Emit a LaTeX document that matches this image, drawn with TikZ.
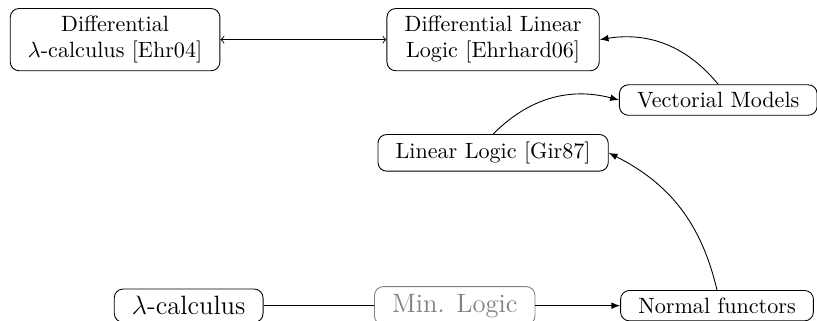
\documentclass[tikz,border=0pt]{standalone}
\begin{document}
\begin{tikzpicture}[
    block/.style={draw,rounded corners,fill=white,inner xsep=8pt,inner ysep=3.3pt,align=center},
    big/.style={block,font=\large},
    faded/.style={big,draw=gray,text=gray}
]
\useasboundingbox (0,0) rectangle (12.99,-5.10);
\node[block] (DLam) at (1.83,-0.63)  {Differential\\$\lambda$-calculus [Ehr04]};
\node[block] (DLL)  at (7.84,-0.63)  {Differential Linear\\Logic [Ehrhard06]};
\node[block] (VM)   at (11.42,-1.59) {Vectorial Models};
\node[block] (LL)   at (7.84,-2.43)  {Linear Logic [Gir87]};
\node[big]   (Lam)  at (3.0,-4.86)   {$\lambda$-calculus};
\node[faded] (ML)   at (7.23,-4.86)  {Min. Logic};
\node[block] (NF)   at (11.4,-4.86)  {Normal functors};

\draw[<->] (DLam) -- (DLL);
\draw[-latex] (VM.north) to[bend right=30] (DLL.east);
\draw[-latex] (LL.north) to[bend left=30] (VM.west);
\draw[-latex] (NF.north) to[bend right=25] (LL.east);
\draw (Lam) -- (ML);
\draw[-latex] (ML) -- (NF);
\end{tikzpicture}
\end{document}
